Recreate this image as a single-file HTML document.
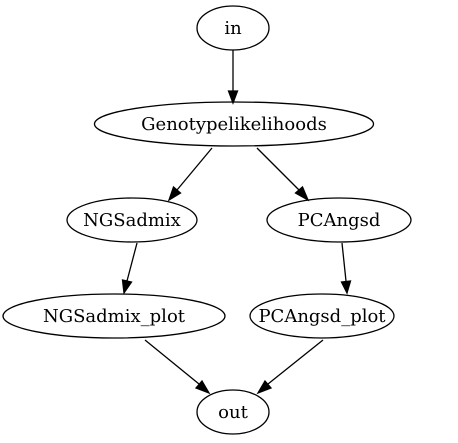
<!DOCTYPE html>
<html><head><meta charset="utf-8"><style>html,body{margin:0;padding:0;background:#fff}svg{display:block}</style></head>
<body>
<svg width="458" height="443" viewBox="0 0 458 443" xmlns="http://www.w3.org/2000/svg">
<g fill="none" stroke="#000" stroke-width="1.3">
<ellipse cx="233" cy="28" rx="36" ry="22"/>
<ellipse cx="234" cy="124" rx="139.5" ry="22"/>
<ellipse cx="132" cy="220" rx="65" ry="22"/>
<ellipse cx="339" cy="220" rx="72" ry="22"/>
<ellipse cx="114" cy="316" rx="111" ry="22"/>
<ellipse cx="322" cy="316" rx="72" ry="22"/>
<ellipse cx="233" cy="412" rx="36" ry="22"/>
<path d="M233 50 L233 91"/>
<path d="M212 148 L177 190"/>
<path d="M257 148 L299 190"/>
<path d="M137 243 L127 281"/>
<path d="M342 243 L346 281"/>
<path d="M145 340 L199 384"/>
<path d="M323 340 L268 384"/>
</g>
<g fill="#000" stroke="#000" stroke-width="1.3">
<polygon points="228.5,91 237.5,91 233,103"/>
<polygon points="173.5,187 180.5,193 169,200"/>
<polygon points="295.5,193 302.5,187 308,200"/>
<polygon points="122.5,280 131.5,282 124,293"/>
<polygon points="341.5,282 350.5,281 347,293"/>
<polygon points="196,388 202,381 209,393"/>
<polygon points="265,381 271,388 258,393"/>
</g>
<g font-family="'DejaVu Serif', serif" font-size="18" text-anchor="middle" fill="#000">
<text x="233" y="34">in</text>
<text x="234" y="130">Genotypelikelihoods</text>
<text x="132" y="226">NGSadmix</text>
<text x="339" y="226">PCAngsd</text>
<text x="114" y="322">NGSadmix_plot</text>
<text x="322" y="322">PCAngsd_plot</text>
<text x="233" y="418">out</text>
</g>
</svg>
</body></html>
